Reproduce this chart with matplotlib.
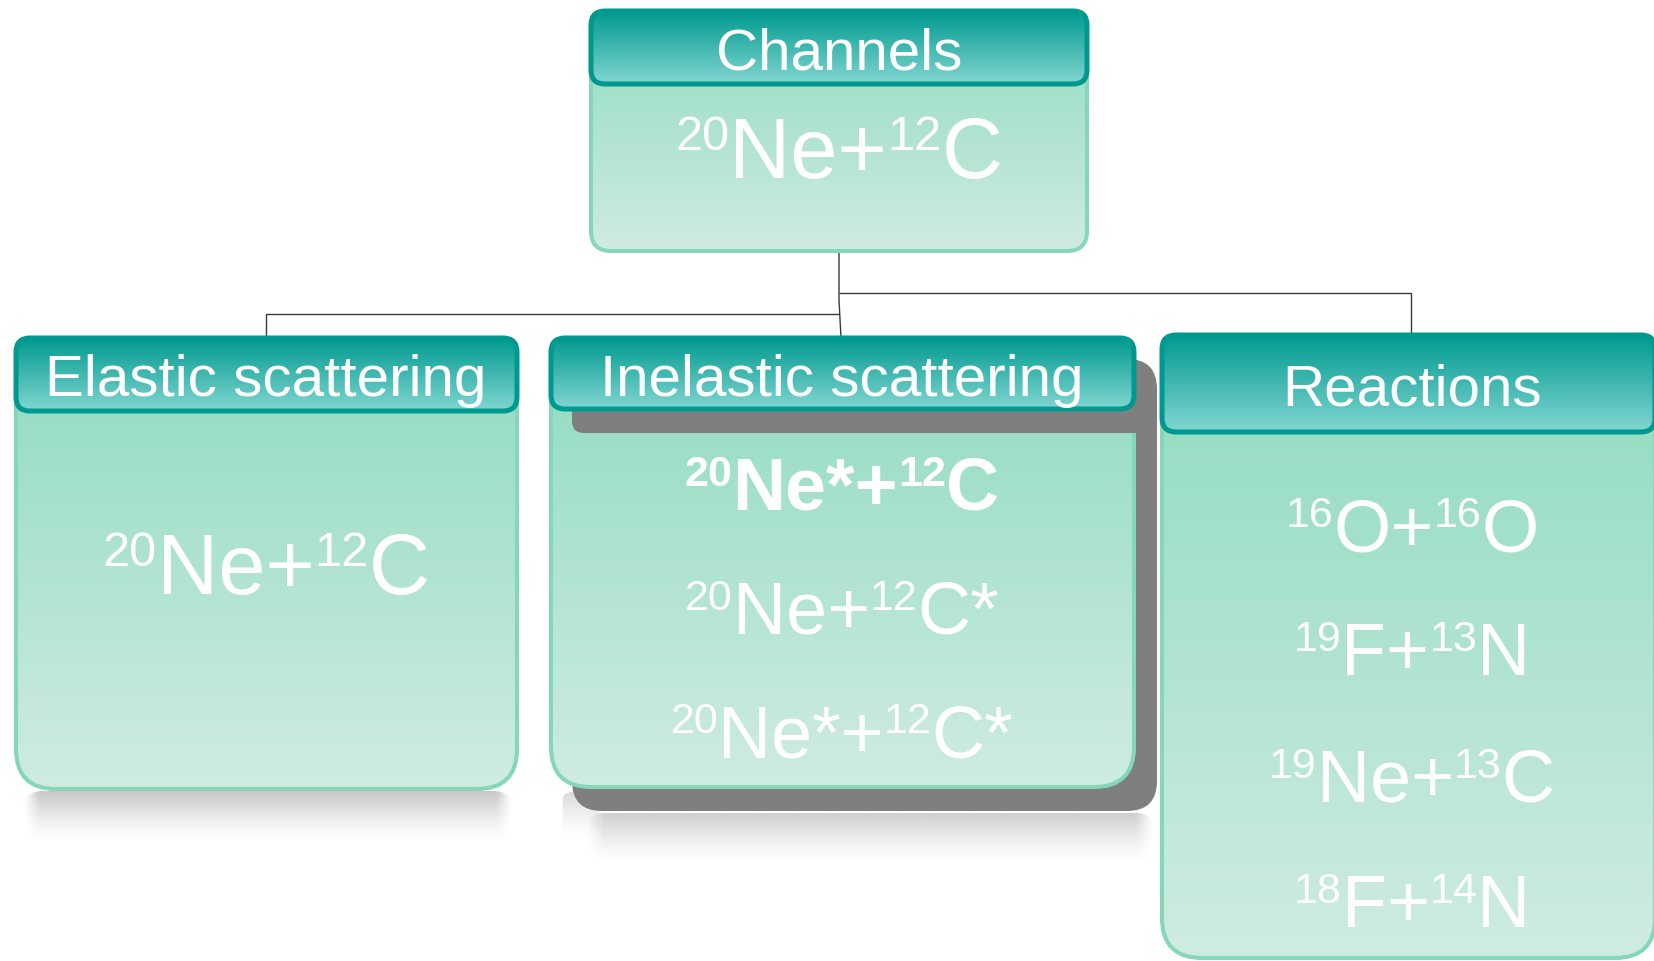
import re
import numpy as np
import matplotlib
matplotlib.use("Agg")
import matplotlib.pyplot as plt
from matplotlib.patches import FancyBboxPatch
from matplotlib.colors import to_rgb

# ---- content -------------------------------------------------------------
root_title = "Channels"
root_formula = "{20}Ne+{12}C"
branch_titles = ["Elastic scattering", "Inelastic scattering", "Reactions"]
branch_formulas = [
    ["{20}Ne+{12}C"],
    ["{20}Ne*+{12}C", "{20}Ne+{12}C*", "{20}Ne*+{12}C*"],
    ["{16}O+{16}O", "{19}F+{13}N", "{19}Ne+{13}C", "{18}F+{14}N"],
]
bold_rows = [[False], [True, False, False], [False, False, False, False]]

# ---- canvas (1 data unit = 1 pixel, y grows downwards) --------------------
W, H = 1654, 961
fig = plt.figure(figsize=(W / 100, H / 100), dpi=100)
ax = fig.add_axes([0, 0, 1, 1])
ax.set_xlim(0, W)
ax.set_ylim(H, 0)
ax.axis("off")
renderer = fig.canvas.get_renderer()
FONT = "Liberation Sans"

HEAD_TOP, HEAD_BOT = "#009a90", "#82d6d1"
HEAD_EDGE = "#00998f"
BODY_TOP, BODY_BOT = "#8fdbbf", "#cfece0"
BODY_EDGE = "#84d8b9"
SHADOW = "#7f7f7f"


def rbox(x0, y0, x1, y1, r, **kw):
    return FancyBboxPatch((x0, y0), x1 - x0, y1 - y0,
                          boxstyle=f"round,pad=0,rounding_size={r}", **kw)


def gradient_box(x0, y0, x1, y1, r, top, bottom, z, edge="none", lw=0):
    patch = rbox(x0, y0, x1, y1, r, facecolor="none", edgecolor=edge,
                 linewidth=lw, zorder=z + 0.1)
    ax.add_patch(patch)
    t = np.linspace(0, 1, 256)[:, None]
    c = (1 - t) * np.array(to_rgb(top)) + t * np.array(to_rgb(bottom))
    im = ax.imshow(c[:, None, :], extent=(x0, x1, y1, y0), origin="upper",
                   aspect="auto", interpolation="bilinear", zorder=z)
    im.set_clip_path(patch)


def reflection(x0, y0, x1, y1, r, grey, a0, z=0.2):
    ny, nx = 128, 256
    ty = np.linspace(0, 1, ny)[:, None]
    tx = np.linspace(0, 1, nx)[None, :]
    edge = np.clip(np.minimum(tx, 1 - tx) / 0.03, 0, 1)
    alpha = a0 * (1 - ty) ** 1.3 * edge
    rgba = np.zeros((ny, nx, 4))
    rgba[..., :3] = grey
    rgba[..., 3] = alpha
    patch = rbox(x0, y0, x1, y1, r, facecolor="none", edgecolor="none")
    ax.add_patch(patch)
    im = ax.imshow(rgba, extent=(x0, x1, y1, y0), origin="upper",
                   aspect="auto", interpolation="bilinear", zorder=z)
    im.set_clip_path(patch)


def parse(formula):
    return [(m.group(1), True) if m.group(1) else (m.group(2), False)
            for m in re.finditer(r"\{(\d+)\}|([^{}]+)", formula)]


def draw_formula(formula, cx, base, size, sup_size, rise, bold=False):
    weight = "bold" if bold else "normal"
    items = []
    for txt, sup in parse(formula):
        t = ax.text(0, 0, txt, fontsize=sup_size if sup else size,
                    fontweight=weight, family=FONT, color="white",
                    ha="left", va="baseline", zorder=10)
        items.append((t, sup, t.get_window_extent(renderer).width))
    x = cx - sum(w for _, _, w in items) / 2
    for t, sup, w in items:
        t.set_position((x, base - rise if sup else base))
        x += w


def header(x0, y0, x1, y1, title, cx, base):
    gradient_box(x0, y0, x1, y1, 14, HEAD_TOP, HEAD_BOT, z=6,
                 edge=HEAD_EDGE, lw=3.6)
    ax.text(cx, base, title, fontsize=42, family=FONT,
            color="white", ha="center", va="baseline", zorder=10)


# ---- connectors -------------------------------------------------------------
line_kw = dict(color="#3a3a3a", lw=1.0, zorder=0.5, solid_capstyle="butt")
ax.plot([839, 839, 841], [251, 300, 338], **line_kw)
ax.plot([839, 266, 266], [314, 314, 338], **line_kw)
ax.plot([839, 1411, 1411], [293, 293, 335], **line_kw)

# ---- reflections under the lower boxes --------------------------------------
reflection(24, 791, 512, 840, 18, 0.77, 0.95)
reflection(562, 792, 600, 836, 10, 0.82, 0.8)
reflection(586, 813, 1154, 862, 18, 0.80, 0.95)

# ---- root box -----------------------------------------------------------------
gradient_box(591, 11, 1087, 251, 20, BODY_TOP, BODY_BOT, z=3,
             edge=BODY_EDGE, lw=2.9)
header(591, 11, 1087, 84, root_title, 839, 70)
draw_formula(root_formula, 839, 178, 61, 35, 28)

# ---- branch boxes ------------------------------------------------------------
boxes = [
    dict(x0=16, x1=517, y0=338, hb=411, yb=789, base=396, cx=266),
    dict(x0=551, x1=1134, y0=338, hb=409, yb=787, base=396, cx=842),
    dict(x0=1162, x1=1655, y0=335, hb=432, yb=958, base=405, cx=1412),
]
rows = [[594], [510, 634, 757], [551, 675, 802, 927]]
sizes = [(61, 35, 28), (53, 31, 24), (53, 31, 24)]

# drop shadow behind the inelastic box
ax.add_patch(rbox(572, 359, 1157, 811, 30, facecolor=SHADOW,
                  edgecolor="none", zorder=2))

for i, b in enumerate(boxes):
    gradient_box(b["x0"], b["y0"], b["x1"], b["yb"], 40, BODY_TOP, BODY_BOT,
                 z=3, edge=BODY_EDGE, lw=2.9)
    if i == 1:
        ax.add_patch(rbox(572, 390, 1154, 433, 12, facecolor=SHADOW,
                          edgecolor="none", zorder=5))
    header(b["x0"], b["y0"], b["x1"], b["hb"], branch_titles[i],
           b["cx"], b["base"])
    size, sup, rise = sizes[i]
    for f, base, bold in zip(branch_formulas[i], rows[i], bold_rows[i]):
        draw_formula(f, b["cx"], base, size, sup, rise, bold)

fig.savefig("out.png", dpi=100, facecolor="white")
